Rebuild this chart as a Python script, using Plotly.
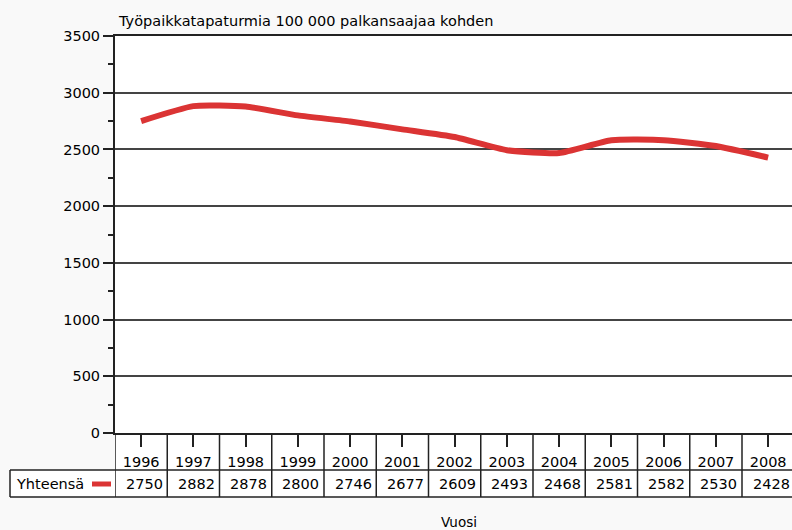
import plotly.graph_objects as go

years = ["1996", "1997", "1998", "1999", "2000", "2001", "2002",
         "2003", "2004", "2005", "2006", "2007", "2008"]
values = [2750, 2882, 2878, 2800, 2746, 2677, 2609, 2493, 2468, 2581, 2582, 2530, 2428]
series_name = "Yhteensä"
title_text = "Työpaikkatapaturmia 100 000 palkansaajaa kohden"
x_title = "Vuosi"

FONT = "DejaVu Sans"
FS = 14.5
idx = list(range(len(years)))

W, H = 677.0, 397.0
L = 115
def px_x(p):
    return (p - L) / W
def px_y(p):
    return (433 - p) / H

fig = go.Figure()
fig.add_trace(go.Scatter(
    x=idx, y=values, mode="lines", name=series_name,
    line=dict(color="#db3434", width=6, shape="spline", smoothing=0.5),
    showlegend=False, hoverinfo="skip"))

shapes = []
line_c = "#222222"
shapes.append(dict(type="rect", xref="paper", yref="paper",
                   x0=px_x(10), x1=1.0, y0=px_y(497), y1=px_y(470),
                   fillcolor="white", line=dict(width=0), layer="below"))
shapes.append(dict(type="rect", xref="paper", yref="paper",
                   x0=0, x1=1.0, y0=px_y(470), y1=0,
                   fillcolor="white", line=dict(width=0), layer="below"))
for i in range(len(years) + 1):
    shapes.append(dict(type="line", xref="x", yref="paper",
                       x0=i - 0.5, x1=i - 0.5, y0=0, y1=px_y(497),
                       line=dict(color=line_c, width=1.5)))
for yy in (470, 497):
    shapes.append(dict(type="line", xref="paper", yref="paper",
                       x0=px_x(10), x1=1.02, y0=px_y(yy), y1=px_y(yy),
                       line=dict(color=line_c, width=1.5)))
shapes.append(dict(type="line", xref="paper", yref="paper",
                   x0=px_x(10), x1=px_x(10), y0=px_y(470), y1=px_y(497),
                   line=dict(color=line_c, width=1.5)))
shapes.append(dict(type="line", xref="paper", yref="paper",
                   x0=px_x(92), x1=px_x(111), y0=px_y(484), y1=px_y(484),
                   line=dict(color="#db3434", width=5)))

annotations = []
annotations.append(dict(xref="paper", yref="paper", x=px_x(14), y=px_y(484),
                        text=series_name, showarrow=False, xanchor="left",
                        yanchor="middle", font=dict(family=FONT, size=FS, color="black")))
for i, v in zip(idx, values):
    annotations.append(dict(xref="x", yref="paper", x=i, y=px_y(484), xshift=3,
                            text=str(v), showarrow=False, xanchor="center",
                            yanchor="middle", font=dict(family=FONT, size=FS, color="black")))
annotations.append(dict(xref="paper", yref="paper", x=px_x(459), y=px_y(522),
                        text=x_title, showarrow=False, xanchor="center",
                        yanchor="middle", font=dict(family=FONT, size=13.5, color="black")))
annotations.append(dict(xref="paper", yref="paper", x=px_x(116), y=px_y(21),
                        text=title_text, showarrow=False, xanchor="left",
                        yanchor="middle", font=dict(family=FONT, size=FS, color="black")))

fig.update_layout(
    width=792, height=530,
    margin=dict(l=L, r=0, t=36, b=97, pad=0),
    paper_bgcolor="#f9f9f9", plot_bgcolor="white",
    font=dict(family=FONT, size=FS, color="black"),
    shapes=shapes, annotations=annotations,
    xaxis=dict(range=[-0.5, -0.5 + W / 52.25], tickvals=idx, ticktext=years,
               ticks="outside", ticklen=12, tickwidth=1.5, tickcolor=line_c,
               showgrid=False, showline=True, linecolor=line_c, linewidth=2,
               mirror=True, zeroline=False, ticklabelstandoff=3,
               tickfont=dict(family=FONT, size=FS, color="black"), fixedrange=True),
    yaxis=dict(range=[0, 3500], dtick=500, tick0=0, ticks="outside", ticklen=10,
               tickwidth=1.5, tickcolor=line_c, showgrid=True, gridcolor="#444444",
               gridwidth=1.5, showline=True, linecolor=line_c, linewidth=2,
               zeroline=False,
               minor=dict(dtick=250, ticks="outside", ticklen=5, tickcolor=line_c,
                          tickwidth=1.5, showgrid=False),
               tickfont=dict(family=FONT, size=FS, color="black"), fixedrange=True),
)

fig.write_html("out.html", config={"displayModeBar": False},
               post_script="document.body.style.margin='0px';document.body.style.overflow='hidden';")
